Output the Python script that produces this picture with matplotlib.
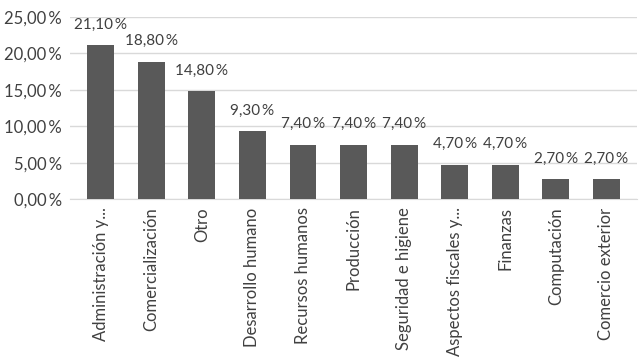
import matplotlib
matplotlib.use("Agg")
import matplotlib.pyplot as plt
from matplotlib.ticker import FuncFormatter

categorias = ["Administración y...", "Comercialización", "Otro", "Desarrollo humano",
              "Recursos humanos", "Producción", "Seguridad e higiene",
              "Aspectos fiscales y...", "Finanzas", "Computación", "Comercio exterior"]
porcentajes = [21.10, 18.80, 14.80, 9.30, 7.40, 7.40, 7.40, 4.70, 4.70, 2.70, 2.70]

plt.rcParams['font.family'] = ['Lato', 'DejaVu Sans']
texto = '#404040'

fig = plt.figure(figsize=(6.4, 3.6), dpi=100)
ax = fig.add_axes([0.11, 0.447, 0.885, 0.506])

x = range(len(categorias))
ax.bar(x, porcentajes, width=0.53, color='#595959', zorder=3)

# etiquetas de valor
for i, v in enumerate(porcentajes):
    ax.text(i, v + 1.9, f"{v:.2f}\u2009%".replace('.', ','), ha='center', va='bottom',
            fontsize=11, color=texto)

ax.set_ylim(0, 25)
ax.set_xlim(-0.6, len(categorias) - 0.4)
ax.set_yticks([0, 5, 10, 15, 20, 25])
ax.yaxis.set_major_formatter(FuncFormatter(lambda v, p: f"{v:.2f}\u2009%".replace('.', ',')))
ax.grid(axis='y', color='#d9d9d9', linewidth=1, zorder=0)

ax.set_xticks(list(x))
ax.set_xticklabels(categorias, rotation=90, fontsize=12, color=texto)
ax.tick_params(axis='y', labelsize=12, colors=texto, length=0, pad=6)
ax.tick_params(axis='x', length=0, pad=6)

for s in ['top', 'right', 'left']:
    ax.spines[s].set_visible(False)
ax.spines['bottom'].set_color('#d9d9d9')

fig.savefig('out.png', dpi=100)
